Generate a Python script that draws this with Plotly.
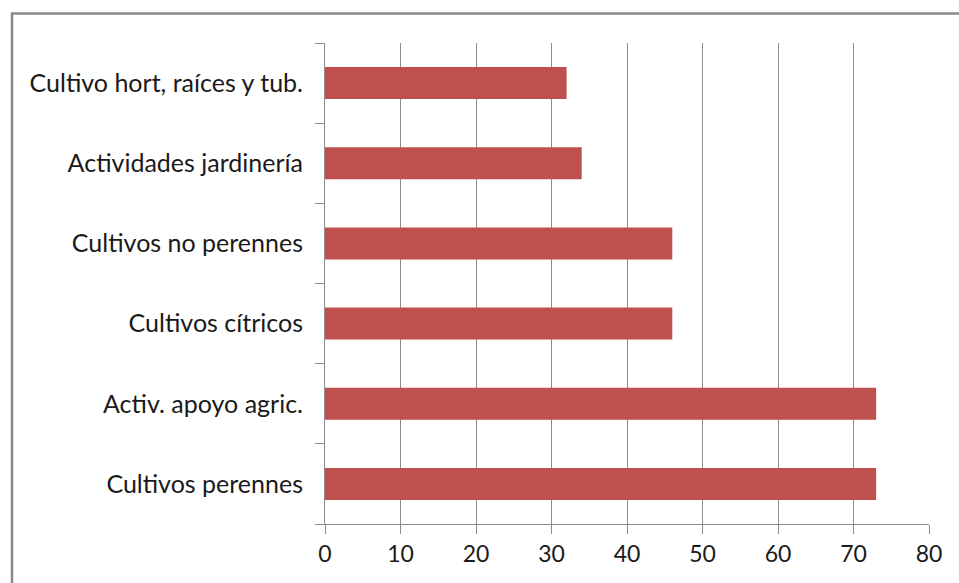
import plotly.graph_objects as go

categories = ["Cultivos perennes", "Activ. apoyo agric.", "Cultivos cítricos",
              "Cultivos no perennes", "Actividades jardinería", "Cultivo hort, raíces y tub."]
values = [73, 73, 46, 46, 34, 32]
x_ticks = [0, 10, 20, 30, 40, 50, 60, 70, 80]

W, H = 959, 583
ml, mt = 325, 43
mr = W - 929
mb = H - 524
pw, ph = W - ml - mr, H - mt - mb

fig = go.Figure(go.Bar(
    x=values, y=categories, orientation="h",
    marker=dict(color="#C0504D", line=dict(width=0)),
    width=0.4,
))

grid = "#8C8C8C"
bx0, by0 = 12, 13.5
px = lambda v: (v - ml) / pw
py = lambda v: (H - v - mb) / ph
border = dict(color="#888888", width=2.5)
fig.update_layout(
    width=W, height=H,
    margin=dict(l=ml, r=mr, t=mt, b=mb),
    paper_bgcolor="white", plot_bgcolor="white",
    font=dict(family="Lato, Open Sans, sans-serif", size=25, color="#1a1a1a"),
    showlegend=False,
    xaxis=dict(range=[0, 80], tickvals=x_ticks, showgrid=True, gridcolor=grid, gridwidth=1,
               showline=True, linecolor=grid, linewidth=1, ticks="outside", ticklen=9,
               tickcolor=grid, zeroline=False, fixedrange=True,
               tickfont=dict(size=23)),
    yaxis=dict(categoryorder="array", categoryarray=categories, showgrid=False,
               showline=True, linecolor=grid, linewidth=1, ticks="outside", ticklen=9,
               tickcolor=grid, tickson="boundaries", ticklabelstandoff=16,
               fixedrange=True, tickfont=dict(size=25)),
    shapes=[
        dict(type="line", xref="paper", yref="paper",
             x0=px(bx0 - 1), x1=px(W + 5), y0=py(by0), y1=py(by0), line=border, layer="below"),
        dict(type="line", xref="paper", yref="paper",
             x0=px(bx0), x1=px(bx0), y0=py(by0), y1=py(H + 5), line=border, layer="below"),
    ],
)

fig.write_html("out.html", config={"displayModeBar": False},
               post_script="document.body.style.margin='0';document.body.style.overflow='hidden';")
